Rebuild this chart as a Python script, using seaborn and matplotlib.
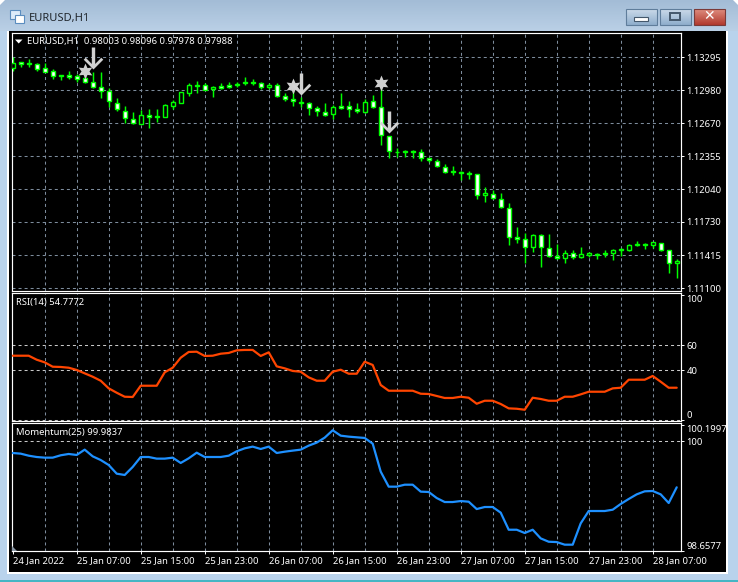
import numpy as np
import pandas as pd
import matplotlib
matplotlib.use("Agg")
import matplotlib.pyplot as plt
from matplotlib.path import Path
from matplotlib.patches import Rectangle, Polygon
import seaborn as sns

# ---------- data, prices in points (1e-5) ----------
opens = [113191,113248,113241,113229,113194,113162,113131,113124,113115,113096,113058,113017,112972,112865,112789,112713,
         112662,112751,112735,112732,112836,112865,112960,113036,113036,112991,113023,113029,113029,113061,113058,113055,
         113010,113036,112931,112903,112874,112861,112811,112779,112760,112830,112836,112801,112779,112877,112820,112545,
         112399,112402,112402,112399,112336,112314,112257,112212,112209,112193,112184,111984,112000,111952,111867,111585,
         111566,111490,111604,111481,111411,111386,111433,111395,111414,111414,111433,111433,111474,111462,111512,111525,
         111509,111534,111462,111338]
closes = [113238,113232,113229,113188,113159,113121,113121,113112,113093,113058,113017,112972,112877,112801,112716,112668,
          112751,112732,112732,112839,112868,112963,113029,113026,112988,113010,113007,113017,113045,113048,113048,113010,
          113036,112931,112903,112877,112858,112811,112782,112751,112820,112817,112801,112782,112874,112827,112557,112402,
          112396,112399,112399,112336,112320,112260,112203,112206,112193,112184,111984,112003,111956,111870,111585,111566,
          111490,111604,111490,111411,111386,111433,111395,111424,111439,111430,111427,111462,111465,111515,111525,111509,
          111538,111462,111338,111357]
highs = [113295,113248,113276,113238,113238,113181,113131,113165,113137,113112,113153,113153,113001,112906,112830,112776,
         112795,112804,112804,112852,112893,112969,113048,113070,113048,113023,113048,113061,113064,113105,113086,113061,
         113048,113048,112960,113010,112915,112874,112833,112858,112842,112953,112880,112858,112899,112937,112991,112545,
         112437,112415,112418,112421,112342,112326,112282,112260,112218,112212,112187,112060,112035,112003,111908,111680,
         111623,111617,111614,111617,111522,111465,111465,111490,111449,111433,111465,111471,111481,111519,111547,111528,
         111544,111534,111462,111376]
lows = [113169,113207,113207,113169,113159,113089,113083,113093,113058,113048,113007,112912,112827,112785,112675,112659,
        112662,112627,112684,112725,112804,112858,112928,112960,112985,112922,112991,113004,113017,113032,113029,112998,
        112991,112922,112884,112833,112820,112747,112741,112741,112706,112804,112728,112763,112763,112811,112462,112342,
        112352,112352,112342,112314,112298,112257,112196,112174,112130,112142,111949,111924,111946,111867,111515,111534,
        111338,111449,111306,111401,111379,111344,111376,111392,111401,111379,111401,111370,111408,111458,111506,111477,
        111481,111458,111249,111202]
rsi_values = [51.7,51.7,51.7,48.5,46.4,42.9,42.7,42.1,40.3,37.6,34.9,31.7,25.6,22.1,18.9,18.7,27.7,27.7,27.7,38.4,42.1,
              50.1,54.7,54.9,51.5,51.7,53.3,53.9,56.0,56.3,56.3,51.5,54.4,43.2,41.6,39.5,38.9,34.4,31.7,31.7,38.9,40.5,
              37.3,37.3,46.9,44.3,28.3,23.7,23.7,23.7,23.7,21.3,21.1,19.5,17.9,17.9,18.9,18.1,13.3,15.7,15.7,13.1,9.6,
              9.3,8.5,18.1,17.1,15.7,15.7,18.9,18.9,20.8,22.9,22.9,22.9,25.6,26.1,32.5,32.5,32.5,35.5,30.9,26.1,26.1]
momentum_values = [99.857,99.849,99.824,99.808,99.800,99.800,99.829,99.845,99.833,99.898,99.816,99.771,99.710,99.604,
                   99.588,99.686,99.808,99.808,99.788,99.788,99.800,99.735,99.792,99.861,99.808,99.808,99.808,99.824,
                   99.878,99.914,99.935,99.906,99.935,99.857,99.873,99.886,99.898,99.947,99.984,100.045,100.135,100.069,
                   100.057,100.049,100.041,99.971,99.629,99.445,99.445,99.469,99.469,99.384,99.380,99.306,99.257,99.257,
                   99.269,99.261,99.171,99.196,99.196,99.127,98.918,98.918,98.878,98.918,98.812,98.771,98.767,98.735,
                   98.735,98.996,99.147,99.147,99.147,99.163,99.233,99.294,99.351,99.388,99.392,99.351,99.245,99.437]
star_bars = [9, 35, 46]
star_prices = [1.13165, 1.13022, 1.13054]
arrow_bars = [10, 36, 47]
arrow_prices = [1.13287, 1.13041, 1.12679]
price_ticks = [1.13295, 1.12980, 1.12670, 1.12355, 1.12040, 1.11730, 1.11415, 1.11100]
rsi_ticks = [0, 40, 60, 100]
rsi_levels = [0, 40, 60]
momentum_ticks = [98.6577, 100, 100.1997]
momentum_levels = [100]
time_tick_bars = [0, 8, 16, 24, 32, 40, 48, 56, 64, 72, 80]
time_labels = ["24 Jan 2022", "25 Jan 07:00", "25 Jan 15:00", "25 Jan 23:00", "26 Jan 07:00", "26 Jan 15:00",
               "26 Jan 23:00", "27 Jan 07:00", "27 Jan 15:00", "27 Jan 23:00", "28 Jan 07:00"]
grid_bars = [4, 8, 12, 16, 20, 24, 28, 32, 36, 40, 44, 48, 52, 56, 60, 64, 68, 72, 76, 80]

W, H = 738, 582
sns.set_theme(style="dark", rc={"axes.grid": False})
plt.rcParams["font.family"] = ["Noto Sans", "DejaVu Sans"]
TXT = 6.8

df = pd.DataFrame({"bar": np.arange(len(opens)), "open": np.array(opens) / 1e5, "close": np.array(closes) / 1e5,
                   "high": np.array(highs) / 1e5, "low": np.array(lows) / 1e5,
                   "rsi": rsi_values, "momentum": momentum_values})

fig = plt.figure(figsize=(W / 100, H / 100), dpi=100, facecolor="#B9D3EC")


def px_axes(x0, y0, x1, y1, **kw):
    return fig.add_axes([x0 / W, 1 - y1 / H, (x1 - x0) / W, (y1 - y0) / H], **kw)


# ---------- window chrome ----------
chrome = px_axes(0, 0, W, H, zorder=-5)
chrome.set_axis_off()


def grad(ax, x0, y0, x1, y1, top, bot):
    c0, c1 = matplotlib.colors.to_rgb(top), matplotlib.colors.to_rgb(bot)
    g = np.linspace(0, 1, 32)[:, None, None] * (np.array(c1) - np.array(c0))[None, None, :] + np.array(c0)[None, None, :]
    ax.imshow(g, extent=(x0, x1, y1, y0), aspect="auto", zorder=2, interpolation="bilinear")


grad(chrome, 0, 0, W, 31, "#A3BCD6", "#BAD0E6")
grad(chrome, 626, 9, 657, 25, "#CBDAEA", "#8FAECC")
grad(chrome, 660, 9, 691, 25, "#CBDAEA", "#8FAECC")
grad(chrome, 694, 9, 725, 25, "#DE8C7E", "#B23A2E")
for x0, x1, ec in [(626, 657, "#5F7D9B"), (660, 691, "#5F7D9B"), (694, 725, "#7A3A38")]:
    chrome.add_patch(Rectangle((x0, 9), x1 - x0, 16, fc="none", ec=ec, lw=0.8, zorder=3))
chrome.add_patch(Rectangle((634, 16.5), 14, 4, fc="white", ec="#44586C", lw=0.8, zorder=3))
chrome.add_patch(Rectangle((670, 12.5), 10, 7, fc="none", ec="#44586C", lw=1.4, zorder=3))
chrome.text(709.5, 16.5, "✕", color="white", fontsize=10, fontweight="bold", ha="center", va="center",
            family="DejaVu Sans", zorder=4)
chrome.add_patch(Rectangle((10, 10), 10, 9, fc="#DCEBFA", ec="#5B8DBF", lw=0.8, zorder=3))
chrome.add_patch(Rectangle((15, 15), 9, 8, fc="white", ec="#5B8DBF", lw=0.8, zorder=3))
chrome.text(29, 18, "EURUSD,H1", color="#20262C", fontsize=8.0, va="center", ha="left", zorder=4)
chrome.add_patch(Rectangle((7, 29.5), 721, 544.5, fc="white", ec="none", zorder=1))
chrome.add_patch(Rectangle((9, 31), 717, 541, fc="black", ec="none", zorder=2))
chrome.add_patch(Rectangle((0, 580), W, 2, fc="#45B5C4", ec="none", zorder=2))
chrome.add_patch(Polygon([(0, 0), (5, 0), (0, 5)], fc="white", ec="none", zorder=3))
chrome.add_patch(Polygon([(W, 0), (W - 5, 0), (W, 5)], fc="white", ec="none", zorder=3))
chrome.set_xlim(0, W)
chrome.set_ylim(H, 0)

# ---------- panels ----------
XLIM = (-0.15, 83.5)
ax_main = px_axes(11.5, 33.3, 680.7, 291)
ax_rsi = px_axes(11.5, 293.3, 680.7, 421)
ax_mom = px_axes(11.5, 423.3, 680.7, 551)

GRID = "#7D8C9C"
LEVEL = "#C8C8C8"
DASH = (0, (2.9, 2.9))


def dress(ax, ticks, labels):
    ax.set_facecolor("black")
    for s in ax.spines.values():
        s.set_color("white")
        s.set_linewidth(0.85)
    ax.yaxis.tick_right()
    ax.set_yticks(ticks)
    ax.set_yticklabels(labels)
    ax.tick_params(axis="y", colors="white", length=2.2, width=0.7, pad=1.8, labelsize=TXT, right=True)
    ax.set_xlabel("")
    ax.set_ylabel("")
    for b in grid_bars:
        ax.axvline(b, color=GRID, lw=0.75, ls=DASH, zorder=1)


# main chart
for y in price_ticks:
    ax_main.axhline(y, color=GRID, lw=0.75, ls=DASH, zorder=1)
ax_main.vlines(df["bar"], df["low"], df["high"], color="#00FF00", lw=1.05, zorder=2)
body_bottom = df[["open", "close"]].min(axis=1)
body_height = (df["close"] - df["open"]).abs()
body_color = np.where(df["close"] > df["open"], "black", "white")
ax_main.bar(df["bar"], body_height, bottom=body_bottom, width=0.5, color=body_color, edgecolor="#00FF00",
            linewidth=1.0, zorder=3)
arrow_path = Path([(-1.7, 11), (1.7, 11), (1.7, -5.5), (7.8, 0.8), (9.8, -1.2), (0, -11), (-9.8, -1.2), (-7.8, 0.8),
                   (-1.7, -5.5), (-1.7, 11)], closed=True)
sns.scatterplot(x=star_bars, y=star_prices, marker=(6, 1, 0), s=130, color="#CFCFCF", linewidth=0, zorder=5,
                ax=ax_main, legend=False)
sns.scatterplot(x=arrow_bars, y=arrow_prices, marker=arrow_path, s=250, color="#D2D2D2", linewidth=0, zorder=6,
                ax=ax_main, legend=False)
dress(ax_main, price_ticks, [f"{p:.5f}" for p in price_ticks])
ax_main.set_xlim(*XLIM)
ax_main.set_ylim(1.11074, 1.13523)
ax_main.set_xticks([])

# RSI
for y in rsi_levels:
    ax_rsi.axhline(y, color=LEVEL, lw=0.75, ls=DASH, zorder=1)
sns.lineplot(data=df, x="bar", y="rsi", color="#FF4500", linewidth=1.6, ax=ax_rsi, legend=False, zorder=3)
dress(ax_rsi, rsi_ticks, [str(v) for v in rsi_ticks])
ax_rsi.set_xlim(*XLIM)
ax_rsi.set_ylim(-0.5, 101.6)
ax_rsi.set_xticks([])
rl = ax_rsi.get_yticklabels()
rl[0].set_va("bottom")
rl[-1].set_va("top")

# Momentum
for y in momentum_levels:
    ax_mom.axhline(y, color=LEVEL, lw=0.75, ls=DASH, zorder=1)
sns.lineplot(data=df, x="bar", y="momentum", color="#1E90FF", linewidth=1.6, ax=ax_mom, legend=False, zorder=3)
dress(ax_mom, momentum_ticks, ["98.6577", "100", "100.1997"])
ax_mom.set_xlim(*XLIM)
ax_mom.set_ylim(98.6577, 100.2204)
ax_mom.set_xticks(time_tick_bars)
ax_mom.set_xticklabels(time_labels, ha="left")
ax_mom.tick_params(axis="x", colors="white", length=2.2, width=0.7, pad=1.8, labelsize=TXT, bottom=True)
for lab in ax_mom.get_xticklabels():
    lab.set_x(lab.get_position()[0])
ml = ax_mom.get_yticklabels()
ml[0].set_va("bottom")
ml[-1].set_va("top")

# ---------- overlay text ----------
top = px_axes(0, 0, W, H, zorder=10)
top.set_axis_off()
top.patch.set_alpha(0)
top.set_xlim(0, W)
top.set_ylim(H, 0)
top.add_patch(Polygon([(15, 39.5), (22.5, 39.5), (18.7, 43.5)], fc="white", ec="none"))
top.text(27, 41.3, "EURUSD,H1  0.98003 0.98096 0.97978 0.97988", color="white", fontsize=TXT, va="center", ha="left")
top.text(16, 302.5, "RSI(14) 54.7772", color="white", fontsize=TXT, va="center", ha="left")
top.text(16, 432.5, "Momentum(25) 99.9837", color="white", fontsize=TXT, va="center", ha="left")
top.add_patch(Polygon([(12, 546), (12, 551), (17, 551)], fc="#8A97A5", ec="none"))

fig.savefig("out.png", dpi=100, facecolor=fig.get_facecolor())
